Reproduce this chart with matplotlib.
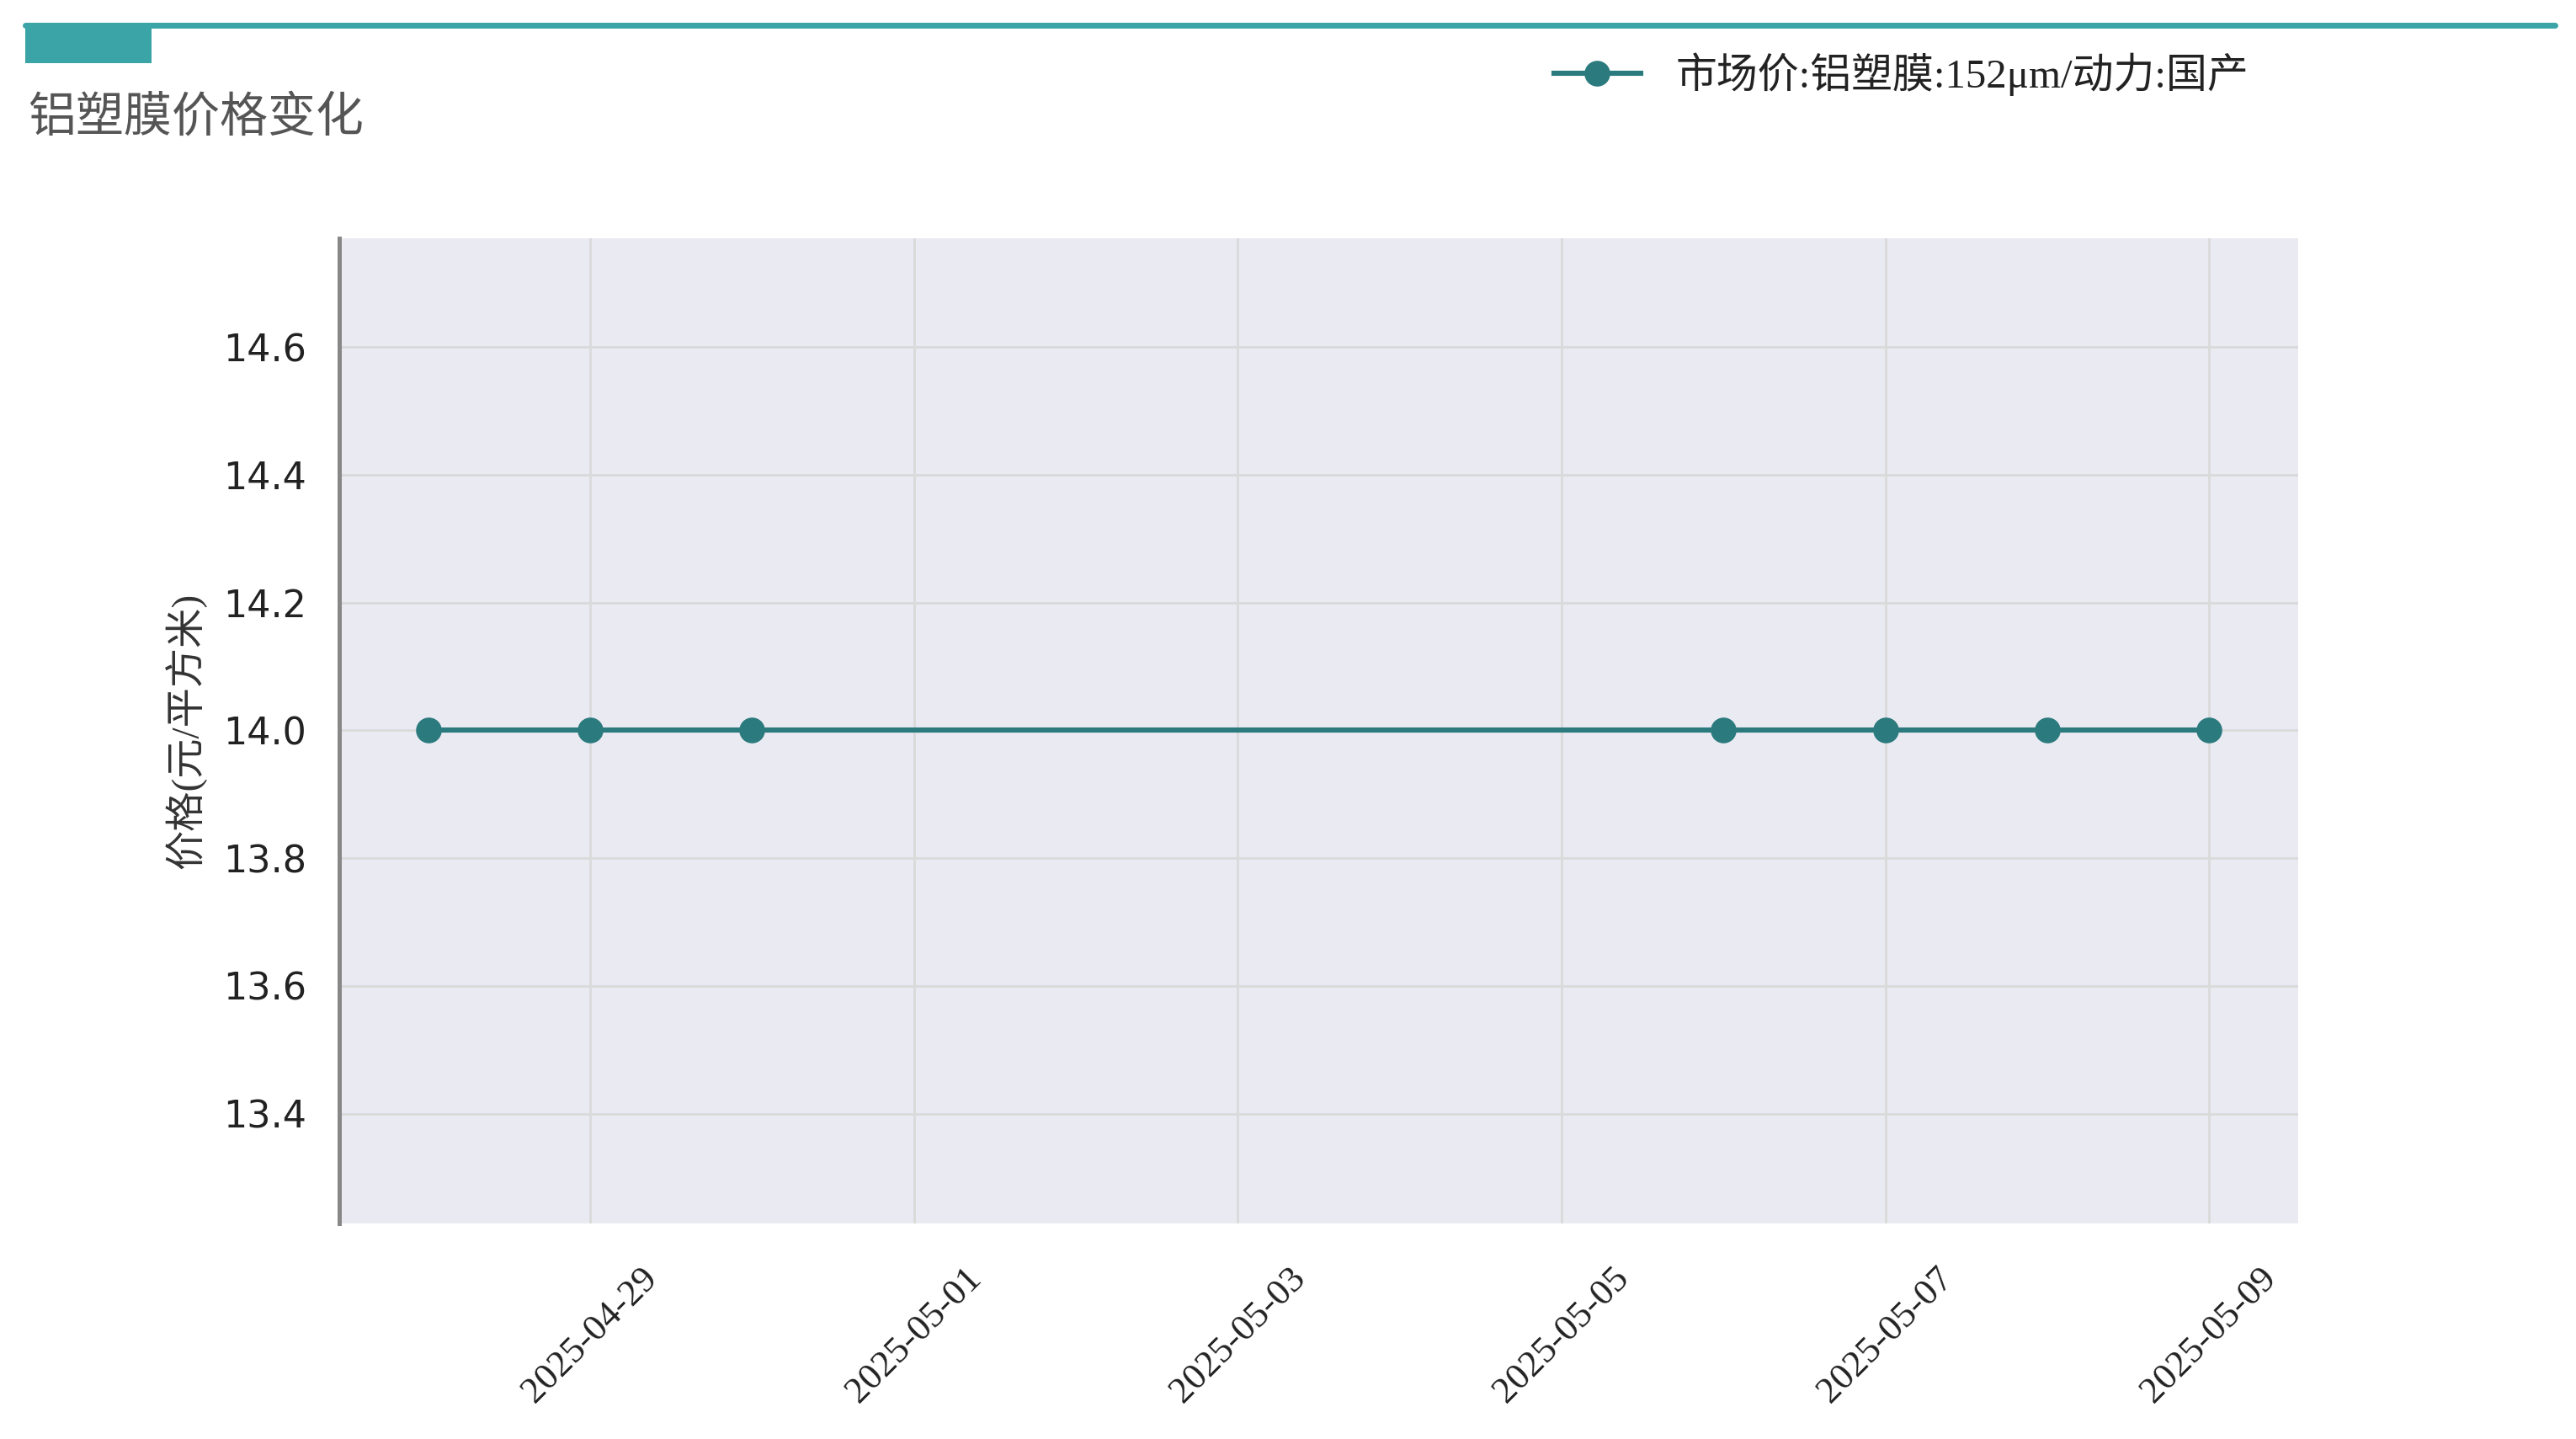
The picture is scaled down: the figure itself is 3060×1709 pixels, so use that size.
import matplotlib
matplotlib.use("Agg")
import matplotlib.pyplot as plt
import matplotlib.dates as mdates
import numpy as np
import pandas as pd

plt.rcParams["font.family"] = ["Liberation Serif", "Noto Sans CJK SC", "DejaVu Sans"]

# data
dates = pd.to_datetime(["2025-04-28", "2025-04-29", "2025-04-30",
                        "2025-05-06", "2025-05-07", "2025-05-08", "2025-05-09"])
prices = [14.0, 14.0, 14.0, 14.0, 14.0, 14.0, 14.0]
tick_dates = pd.to_datetime(["2025-04-29", "2025-05-01", "2025-05-03",
                             "2025-05-05", "2025-05-07", "2025-05-09"])
y_ticks = [13.4, 13.6, 13.8, 14.0, 14.2, 14.4, 14.6]

series_name = "市场价:铝塑膜:152μm/动力:国产"
title = "铝塑膜价格变化"
ylabel = "价格(元/平方米)"

teal = "#3AA4A6"
line_col = "#2B7A7E"
cjk = ["Liberation Serif", "Noto Sans CJK SC"]

fig = plt.figure(figsize=(15.3, 8.545), dpi=200)
ax = fig.add_axes([0.1317, 0.1497, 0.7605, 0.6847])
ax.set_facecolor("#EAEAF2")

ax.plot(dates, prices, color=line_col, linewidth=2.2, marker="o",
        markersize=10, label=series_name, zorder=3)

ax.set_ylim(13.228, 14.77)
ax.set_yticks(y_ticks)
ax.set_yticklabels(["%.1f" % v for v in y_ticks], family="DejaVu Sans",
                   fontsize=16, color="#222222")
ax.set_xlim(dates[0] - pd.Timedelta(days=0.55), dates[-1] + pd.Timedelta(days=0.55))
ax.set_xticks(tick_dates)
ax.xaxis.set_major_formatter(mdates.DateFormatter("%Y-%m-%d"))
for lbl in ax.get_xticklabels():
    lbl.set_rotation(45)
    lbl.set_fontsize(16)
    lbl.set_family("Liberation Serif")
    lbl.set_color("#222222")
ax.tick_params(axis="x", length=0, pad=16)
ax.tick_params(axis="y", length=0, pad=14)

ax.grid(True, color="#DADADA", linewidth=1.0)
ax.set_axisbelow(True)
for s in ["top", "right", "bottom"]:
    ax.spines[s].set_visible(False)
ax.spines["left"].set_color("#888888")
ax.spines["left"].set_linewidth(1.8)

ax.set_ylabel(ylabel, fontsize=17, family=cjk, color="#333333", labelpad=7)

# header decoration
fig.add_artist(plt.Line2D([30 / 3060, 3035 / 3060], [1 - 29.5 / 1709] * 2,
                          color=teal, linewidth=2.5, solid_capstyle="round"))
fig.add_artist(plt.Rectangle((30 / 3060, 1 - 75 / 1709), 150 / 3060, 46 / 1709,
                             color=teal, linewidth=0))
fig.text(33 / 3060, 1 - 140 / 1709, title, fontsize=20.5, family=cjk,
         color="#555555", va="center", ha="left")

fig.legend(loc="center left", bbox_to_anchor=(1846 / 3060, 1 - 88 / 1709),
           frameon=False, borderpad=0, borderaxespad=0, handlelength=2.1,
           handletextpad=0.85, prop={"family": cjk, "size": 17.6},
           labelcolor="#222222")

fig.savefig("out.png", dpi=200)
